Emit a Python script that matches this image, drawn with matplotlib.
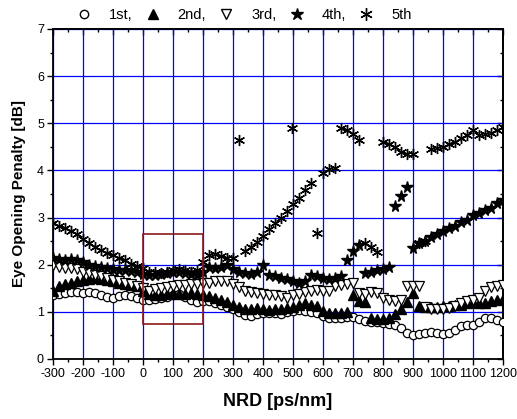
import matplotlib
matplotlib.use("Agg")
import matplotlib.pyplot as plt
from matplotlib.lines import Line2D
from matplotlib.patches import Rectangle
from matplotlib.ticker import MultipleLocator

plt.rcParams.update({
    "font.family": ["Liberation Sans", "DejaVu Sans"],
    "axes.edgecolor": "#000000",
    "axes.linewidth": 1.3,
    "axes.unicode_minus": False,
})

# residual dispersion grid (ps/nm) shared by orders 1-4
nrd = list(range(-300, 1201, 20))

eop_1st = [1.35, 1.38, 1.40, 1.42, 1.42, 1.40, 1.42, 1.40, 1.35, 1.32,
           1.30, 1.33, 1.36, 1.34, 1.30, 1.26, 1.25, 1.28, 1.30, 1.32,
           1.35, 1.38, 1.32, 1.25, 1.20, 1.22, 1.22, 1.18, 1.15, 1.10,
           1.05, 1.00, 0.93, 0.92, 0.96, 0.98, 0.97, 0.98, 0.96, 1.00,
           1.02, 1.03, 1.02, 1.00, 0.98, 0.92, 0.88, 0.87, 0.88, 0.90,
           0.90, 0.85, 0.80, 0.78, 0.78, 0.77, 0.75, 0.72, 0.65, 0.55,
           0.50, 0.52, 0.56, 0.58, 0.56, 0.53, 0.55, 0.62, 0.70, 0.73,
           0.72, 0.78, 0.86, 0.86, 0.82, 0.78]

eop_2nd = [1.45, 1.55, 1.60, 1.62, 1.65, 1.68, 1.70, 1.72, 1.70, 1.68,
           1.65, 1.62, 1.60, 1.58, 1.55, 1.45, 1.38, 1.35, 1.35, 1.38,
           1.40, 1.38, 1.38, 1.40, 1.38, 1.35, 1.33, 1.30, 1.25, 1.20,
           1.15, 1.10, 1.06, 1.05, 1.08, 1.05, 1.03, 1.06, 1.05, 1.08,
           1.10, 1.14, 1.18, 1.15, 1.12, 1.02, 0.98, 0.97, 0.97, 1.00,
           1.35, 1.22, 1.20, 0.88, 0.85, 0.85, 0.88, 0.95, 1.05, 1.20,
           1.40, 1.12, 1.10, 1.10, 1.10, 1.12, 1.12, 1.14, 1.15, 1.18,
           1.20, 1.18, 1.18, 1.22, 1.25, 1.28]

eop_3rd = [2.00, 1.95, 1.93, 1.92, 1.90, 1.85, 1.82, 1.78, 1.75, 1.72,
           1.68, 1.65, 1.62, 1.60, 1.55, 1.50, 1.45, 1.48, 1.50, 1.52,
           1.55, 1.58, 1.58, 1.60, 1.60, 1.62, 1.62, 1.65, 1.66, 1.65,
           1.60, 1.52, 1.45, 1.42, 1.40, 1.38, 1.36, 1.35, 1.33, 1.30,
           1.35, 1.38, 1.42, 1.45, 1.46, 1.45, 1.45, 1.55, 1.58, 1.60,
           1.62, 1.40, 1.38, 1.42, 1.40, 1.30, 1.25, 1.22, 1.25, 1.55,
           1.55, 1.55, 1.10, 1.05, 1.05, 1.05, 1.08, 1.12, 1.18, 1.22,
           1.25, 1.30, 1.45, 1.52, 1.55, 1.58]

eop_4th = [2.15, 2.12, 2.10, 2.12, 2.10, 2.05, 2.00, 1.98, 1.95, 1.92,
           1.90, 1.88, 1.88, 1.86, 1.85, 1.80, 1.78, 1.78, 1.80, 1.82,
           1.85, 1.85, 1.82, 1.80, 1.78, 1.85, 1.95, 1.92, 1.95, 2.00,
           1.90, 1.85, 1.82, 1.80, 1.85, 2.00, 1.78, 1.75, 1.72, 1.70,
           1.65, 1.62, 1.65, 1.78, 1.75, 1.72, 1.70, 1.72, 1.75, 2.10,
           2.30, 2.42, 1.82, 1.85, 1.88, 1.90, 1.95, 3.25, 3.45, 3.65,
           2.35, 2.45, 2.50, 2.58, 2.65, 2.72, 2.78, 2.82, 2.90, 2.95,
           3.05, 3.10, 3.15, 3.20, 3.30, 3.38]

# 5th order was measured on its own set of points
nrd_5th = [-300, -280, -260, -240, -220, -200, -180, -160, -140, -120,
           -100, -80, -60, -40, -20, 0, 20, 40, 60, 80,
           100, 120, 140, 160, 180, 200, 220, 240, 260, 280,
           300, 320, 340, 360, 380, 400, 420, 440, 460, 480,
           495, 500, 520, 540, 560, 580, 600, 620, 640, 660,
           680, 700, 720, 740, 760, 780, 800, 820, 840, 860,
           880, 900, 920, 940, 960, 980, 1000, 1020, 1040, 1060,
           1080, 1100, 1120, 1140, 1160, 1180, 1200]
eop_5th = [2.88, 2.82, 2.78, 2.72, 2.65, 2.55, 2.45, 2.38, 2.32, 2.25,
           2.20, 2.15, 2.10, 2.02, 1.98, 1.92, 1.85, 1.85, 1.82, 1.85,
           1.88, 1.90, 1.88, 1.85, 1.88, 2.05, 2.20, 2.22, 2.18, 2.15,
           2.15, 4.65, 2.30, 2.38, 2.48, 2.60, 2.75, 2.88, 3.00, 3.13,
           4.90, 3.28, 3.42, 3.58, 3.74, 2.68, 3.95, 4.02, 4.06, 4.90,
           4.85, 4.78, 4.65, 2.47, 2.38, 2.28, 4.60, 4.55, 4.50, 4.40,
           4.35, 4.35, 2.45, 2.50, 4.45, 4.48, 4.50, 4.55, 4.60, 4.68,
           4.75, 4.85, 4.75, 4.78, 4.80, 4.85, 4.92]

fig = plt.figure(figsize=(5.17, 4.19), dpi=100)
ax = fig.add_axes([0.1025, 0.1432, 0.8705, 0.7876])

ax.plot(nrd, eop_1st, ls="none", marker="o", ms=6, mfc="white", mec="black", mew=0.9, zorder=3)
ax.plot(nrd, eop_2nd, ls="none", marker="^", ms=6.5, mfc="black", mec="black", zorder=3)
ax.plot(nrd, eop_3rd, ls="none", marker="v", ms=6.5, mfc="white", mec="black", mew=0.9, zorder=3)
ax.plot(nrd, eop_4th, ls="none", marker="*", ms=8.5, mfc="black", mec="black", zorder=3)
ax.plot(nrd_5th, eop_5th, ls="none", marker=(6, 2, 0), ms=8, mec="black", mew=1.0, zorder=3)

ax.add_patch(Rectangle((0, 0.75), 200, 1.9, fill=False, edgecolor="#8b1a1a", lw=1.2, zorder=4))

ax.set_xlim(-300, 1200)
ax.set_ylim(0, 7)
ax.xaxis.set_major_locator(MultipleLocator(100))
ax.xaxis.set_minor_locator(MultipleLocator(50))
ax.yaxis.set_major_locator(MultipleLocator(1))
ax.yaxis.set_minor_locator(MultipleLocator(0.5))
# outward ticks on bottom/left, inward marks on the mirrored top/right axes
ax.tick_params(which="both", direction="out", labelsize=9, width=1.0)
ax.tick_params(which="major", length=4.5)
ax.tick_params(which="minor", length=2.5)
ax.tick_params(axis="x", pad=2)
ax.tick_params(axis="y", pad=2)
top = ax.secondary_xaxis("top")
top.xaxis.set_major_locator(MultipleLocator(100))
top.xaxis.set_minor_locator(MultipleLocator(50))
top.tick_params(which="both", direction="in", labeltop=False, width=1.0)
top.tick_params(which="major", length=4.5)
top.tick_params(which="minor", length=2.5)
right = ax.secondary_yaxis("right")
right.yaxis.set_major_locator(MultipleLocator(1))
right.yaxis.set_minor_locator(MultipleLocator(0.5))
right.tick_params(which="both", direction="in", labelright=False, width=1.0)
right.tick_params(which="major", length=4.5)
right.tick_params(which="minor", length=2.5)

ax.grid(True, which="major", color="#0000ff", lw=0.9, zorder=1)
ax.set_axisbelow(True)

ax.set_xlabel("NRD [ps/nm]", fontsize=13, fontweight="bold", labelpad=9)
ax.set_ylabel("Eye Opening Penalty [dB]", fontsize=11, fontweight="bold", labelpad=8)

handles = [
    Line2D([], [], ls="none", marker="o", ms=6, mfc="white", mec="black"),
    Line2D([], [], ls="none", marker="^", ms=7, mfc="black", mec="black"),
    Line2D([], [], ls="none", marker="v", ms=7, mfc="white", mec="black"),
    Line2D([], [], ls="none", marker="*", ms=9, mfc="black", mec="black"),
    Line2D([], [], ls="none", marker=(6, 2, 0), ms=9, mec="black"),
]
labels = ["1st,", "2nd,", "3rd,", "4th,", "5th"]
fig.legend(handles, labels, loc="center", bbox_to_anchor=(0.472, 0.965), ncol=5,
           frameon=False, fontsize=10.5, handlelength=1.0, handletextpad=1.2,
           columnspacing=0.9)

fig.savefig("out.png", dpi=100)
